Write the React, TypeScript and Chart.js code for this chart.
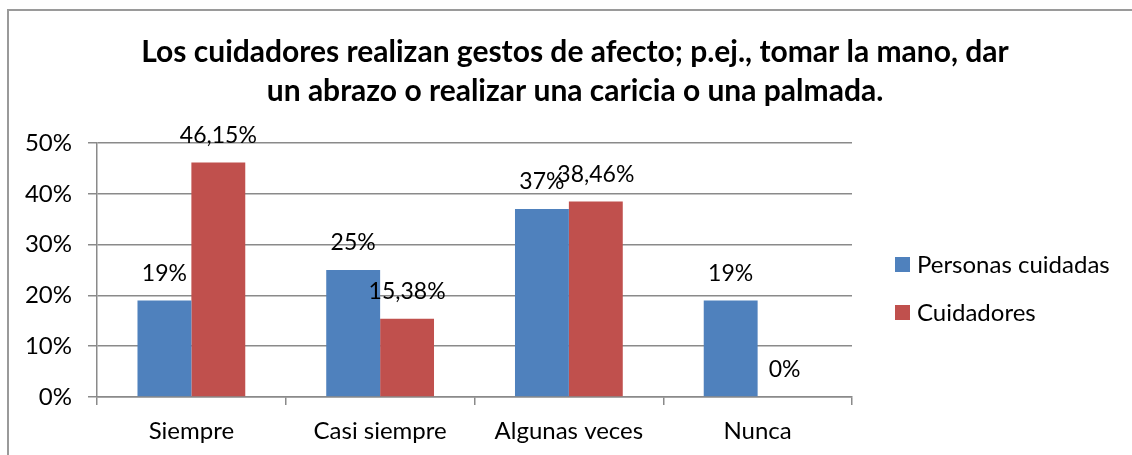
import React, { useEffect, useRef } from "react";
import { Chart, registerables } from "chart.js";

Chart.register(...registerables);

const categories = ["Siempre", "Casi siempre", "Algunas veces", "Nunca"];
const seriesNames = ["Personas cuidadas", "Cuidadores"];
const personasCuidadas = [19, 25, 37, 19];
const cuidadores = [46.15, 15.38, 38.46, 0];
const seriesColors = ["#4F81BD", "#C0504D"];
const titleLines = [
  "Los cuidadores realizan gestos de afecto; p.ej., tomar la mano, dar",
  "un abrazo o realizar una caricia o una palmada.",
];

const FONT = "Lato, 'Open Sans', sans-serif";
const TICK_SIZE = 24;
const LABEL_SIZE = 23;
const GRID = "#8a8a8a";

const fmt = (v: number) =>
  Number.isInteger(v) ? `${v}%` : `${v.toFixed(2).replace(".", ",")}%`;

const overlayPlugin = {
  id: "overlay",
  afterDatasetsDraw(chart: any) {
    const ctx = chart.ctx;
    const area = chart.chartArea;
    ctx.save();
    // title
    ctx.font = `bold 30px ${FONT}`;
    ctx.fillStyle = "#000";
    ctx.textAlign = "center";
    ctx.textBaseline = "alphabetic";
    titleLines.forEach((line, i) => {
      ctx.fillText(line, 575, 62 + i * 38.5);
    });
    // value labels
    ctx.font = `${LABEL_SIZE}px ${FONT}`;
    ctx.textBaseline = "middle";
    chart.data.datasets.forEach((ds: any, i: number) => {
      const meta = chart.getDatasetMeta(i);
      meta.data.forEach((bar: any, j: number) => {
        ctx.fillText(fmt(ds.data[j]), bar.x, bar.y - 27);
      });
    });
    // legend
    ctx.font = `${TICK_SIZE}px ${FONT}`;
    ctx.textAlign = "left";
    seriesNames.forEach((name, i) => {
      const cy = area.top + 121.5 + i * 48;
      const x = area.right + 43;
      ctx.fillStyle = seriesColors[i];
      ctx.fillRect(x, cy - 7.5, 15, 15);
      ctx.fillStyle = "#000";
      ctx.fillText(name, x + 22, cy + 1);
    });
    ctx.restore();
  },
};

export default function App() {
  const ref = useRef<HTMLCanvasElement>(null);
  useEffect(() => {
    if (!ref.current) return;
    const chart = new Chart(ref.current, {
      type: "bar",
      data: {
        labels: categories,
        datasets: [
          {
            label: seriesNames[0],
            data: personasCuidadas,
            backgroundColor: seriesColors[0],
            barPercentage: 1,
            categoryPercentage: 0.571,
          },
          {
            label: seriesNames[1],
            data: cuidadores,
            backgroundColor: seriesColors[1],
            barPercentage: 1,
            categoryPercentage: 0.571,
          },
        ],
      },
      options: {
        responsive: false,
        animation: false,
        layout: { padding: { left: 0, right: 280, top: 143, bottom: 0 } },
        plugins: {
          legend: { display: false },
          tooltip: { enabled: false },
          title: { display: false },
        },
        scales: {
          x: {
            offset: true,
            grid: {
              offset: true,
              drawOnChartArea: false,
              drawTicks: true,
              tickLength: 8,
              color: GRID,
              lineWidth: 1.5,
            },
            border: { color: GRID, width: 1.5 },
            ticks: {
              color: "#000",
              padding: 12,
              font: { family: FONT, size: TICK_SIZE },
            },
            afterFit: (s: any) => {
              s.height = 58;
            },
          },
          y: {
            min: 0,
            max: 50,
            ticks: {
              stepSize: 10,
              color: "#000",
              padding: 16,
              font: { family: FONT, size: TICK_SIZE },
              callback: (v: any) => `${v}%`,
            },
            grid: {
              color: GRID,
              lineWidth: 1.5,
              drawTicks: true,
              tickLength: 9,
            },
            border: { color: GRID, width: 1.5 },
            afterFit: (s: any) => {
              s.width = 97;
            },
          },
        },
      },
      plugins: [overlayPlugin],
    });
    return () => chart.destroy();
  }, []);

  return (
    <div
      style={{
        position: "fixed",
        left: 0,
        top: 0,
        width: 1132,
        height: 455,
        background: "#fff",
        overflow: "hidden",
      }}
    >
      <div
        style={{
          position: "absolute",
          left: 7,
          top: 9,
          width: 1140,
          height: 460,
          borderTop: "2px solid #9a9a9a",
          borderLeft: "2px solid #9a9a9a",
        }}
      />
      <canvas
        ref={ref}
        width={1132}
        height={455}
        style={{ position: "absolute", left: 0, top: 0, width: 1132, height: 455 }}
      />
    </div>
  );
}
